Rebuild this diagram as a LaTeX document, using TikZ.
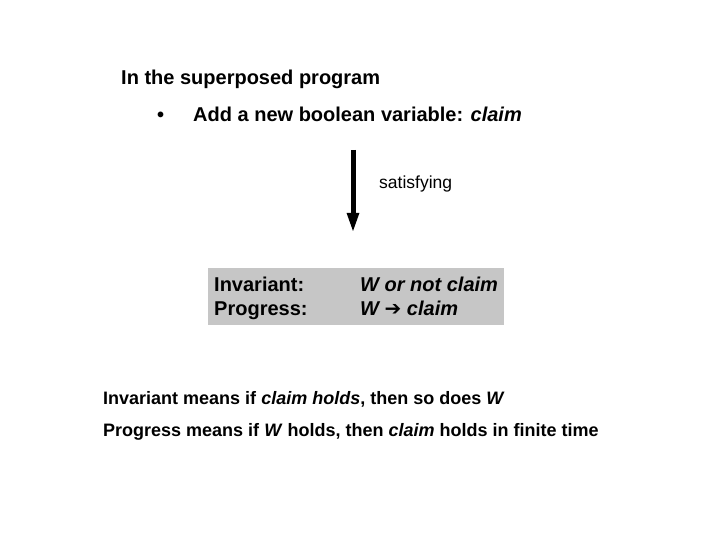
\documentclass[tikz,border=0pt]{standalone}
\usepackage{fontspec}
\setmainfont{Liberation Sans}
\newfontfamily\symfont{DejaVu Sans}
\usetikzlibrary{arrows.meta,positioning}
\begin{document}
\begin{tikzpicture}[x=1pt,y=-1pt,every node/.style={inner sep=0pt,font=\bfseries}]
        \useasboundingbox (0,0) rectangle (720,540);
        \node[anchor=base west,font=\bfseries\fontsize{20}{24}\selectfont] (title) at (121,85) {In the superposed program};
        \node[anchor=base west,font=\bfseries\fontsize{20}{24}\selectfont] (bullet) at (157,122) {•};
        \node[anchor=base west,font=\bfseries\fontsize{20}{24}\selectfont] (item) at (193,122) {Add a new boolean variable: \textit{claim}};
        \coordinate (top) at (353,150);
        \coordinate (tip) at (353,233);
        \draw[line width=5pt,-{Triangle[length=20pt,width=11pt]}] (top) -- (tip);
        \node[anchor=base west,font=\fontsize{17.5}{21}\selectfont] (sat) at (379,189) {satisfying};
        \fill[gray!45] (208,268) rectangle (504,325);
        \node[anchor=base west,font=\bfseries\fontsize{20}{24}\selectfont] (inv) at (214,291) {Invariant:};
        \node[anchor=base west,font=\bfseries\fontsize{20}{24}\selectfont] (prog) at (214,315) {Progress:};
        \node[anchor=base west,font=\bfseries\itshape\fontsize{20}{24}\selectfont] (invf) at (360,291) {W or not claim};
        \node[anchor=base west,font=\bfseries\itshape\fontsize{20}{24}\selectfont] (progf) at (360,315) {W {\upshape\symfont ➔} claim};
        \node[anchor=base west,font=\bfseries\fontsize{18}{22}\selectfont] (means1) at (103,404) {Invariant means if \textit{claim holds}, then so does \textit{W}};
        \node[anchor=base west,font=\bfseries\fontsize{18}{22}\selectfont] (means2) at (103,436) {Progress means if \textit{W} holds, then \textit{claim} holds in finite time};
\end{tikzpicture}
\end{document}
